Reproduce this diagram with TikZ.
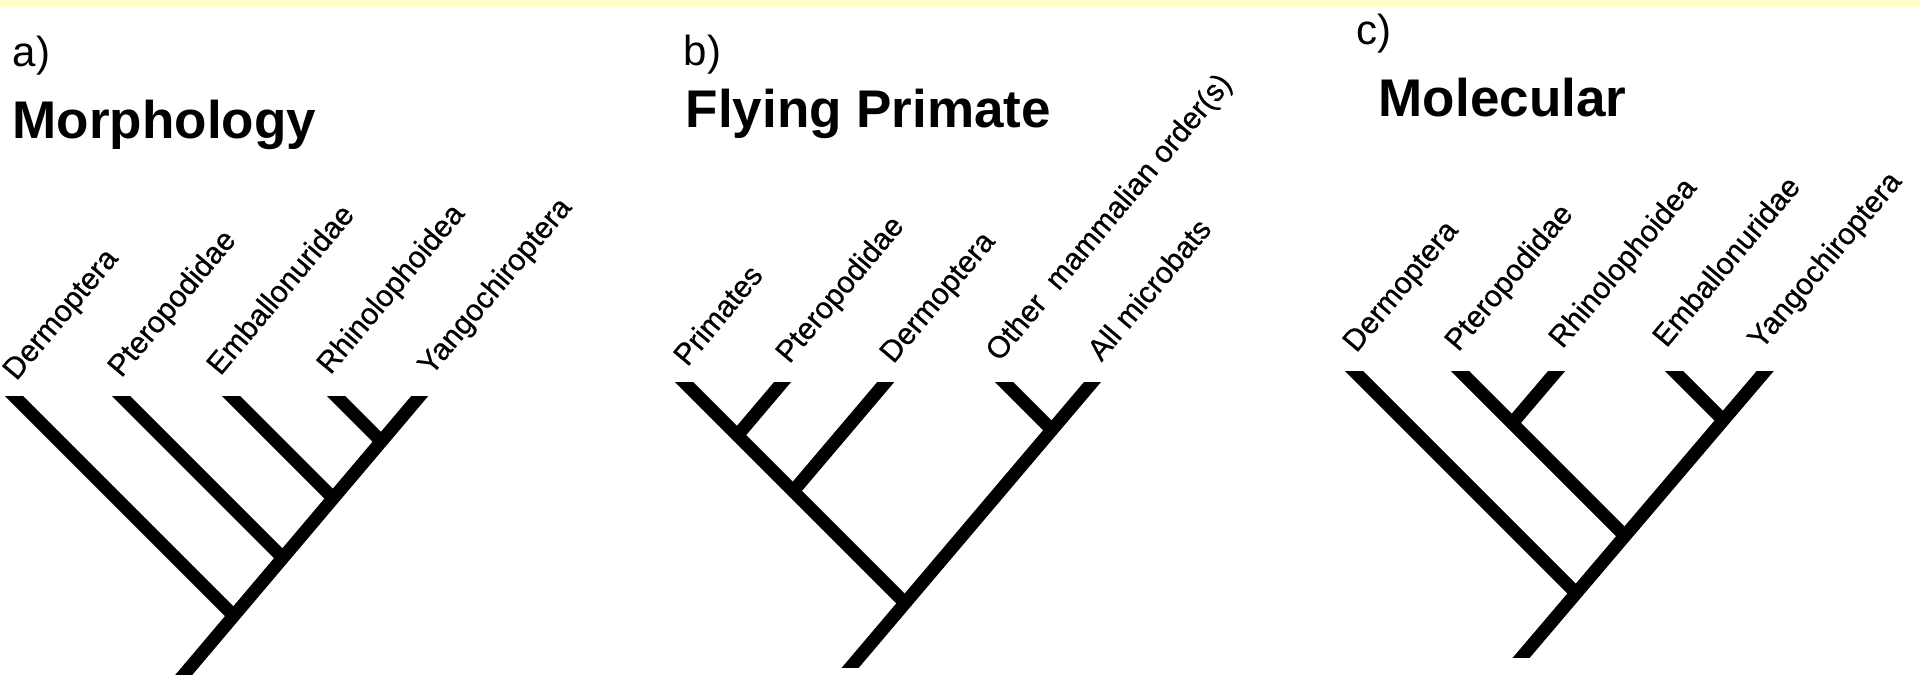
\documentclass[tikz,border=0pt]{standalone}
\usepackage{fontspec}
\setmainfont{Liberation Sans}
\newfontfamily\taxonfont{Liberation Sans}[FakeBold=0.6]
\definecolor{bandyellow}{RGB}{255,255,204}
\begin{document}
\begin{tikzpicture}[x=0.01cm,y=-0.01cm,
  branch/.style={line width=0.13cm, line cap=butt},
  taxon/.style={rotate=50, anchor=base west, inner sep=0pt, font=\taxonfont\fontsize{8.6}{10}\selectfont},
  paneltag/.style={anchor=base west, inner sep=0pt, font=\fontsize{11.95}{14}\selectfont},
  paneltitle/.style={anchor=base west, inner sep=0pt, font=\fontsize{15.08}{18}\selectfont\bfseries}]
\useasboundingbox (0,0) rectangle (1920,677);
\fill[white] (0,0) rectangle (1920,677);
\fill[bandyellow] (0,0) rectangle (1920,7);

% ---------- panel a ----------
\node[paneltag] (taga) at (12,67) {a)};
\node[paneltitle] (titlea) at (12,139) {Morphology};
\begin{scope}
\clip (0,397) rectangle (640,675);
\coordinate (aRoot) at (171,690);
\coordinate (aYan) at (433.3,380);
\coordinate (aN1) at (233.8,615.8);
\coordinate (aN2) at (282.8,557.8);
\coordinate (aN3) at (333.2,498.2);
\coordinate (aN4) at (381.3,441.3);
\coordinate (aDer) at (-2,380);
\coordinate (aPte) at (105,380);
\coordinate (aEmb) at (215,380);
\coordinate (aRhi) at (320,380);
\draw[branch] (aRoot) -- (aYan);
\draw[branch] (aN1) -- (aDer);
\draw[branch] (aN2) -- (aPte);
\draw[branch] (aN3) -- (aEmb);
\draw[branch] (aN4) -- (aRhi);
\end{scope}
\node[taxon] (laDer) at (16,382) {Dermoptera};
\node[taxon] (laPte) at (121,379) {Pteropodidae};
\node[taxon] (laEmb) at (220,377) {Emballonuridae};
\node[taxon] (laRhi) at (330,376) {Rhinolophoidea};
\node[taxon] (laYan) at (431,377) {Yangochiroptera};

% ---------- panel b ----------
\node[paneltag] (tagb) at (683,66) {b)};
\node[paneltitle] (titleb) at (685,128) {Flying Primate};
\begin{scope}
\clip (640,383) rectangle (1280,668);
\coordinate (bRoot) at (831.4,690);
\coordinate (bAll) at (1102.7,370);
\coordinate (bN0) at (905.1,603.1);
\coordinate (bNpp) at (737.4,435.4);
\coordinate (bNd) at (793.2,491.2);
\coordinate (bNo) at (1051.9,429.9);
\coordinate (bPri) at (672,370);
\coordinate (bPte) at (792.8,370);
\coordinate (bDer) at (896,370);
\coordinate (bOth) at (992,370);
\draw[branch] (bRoot) -- (bAll);
\draw[branch] (bN0) -- (bPri);
\draw[branch] (bNpp) -- (bPte);
\draw[branch] (bNd) -- (bDer);
\draw[branch] (bNo) -- (bOth);
\end{scope}
\node[taxon] (lbPri) at (687,368) {Primates};
\node[taxon] (lbPte) at (789,365) {Pteropodidae};
\node[taxon] (lbDer) at (893,365) {Dermoptera};
\node[taxon] (lbOth) at (999,363) {Other\ \ mammalian order(s)};
\node[taxon] (lbAll) at (1101,363) {All microbats};

% ---------- panel c ----------
\node[paneltag] (tagc) at (1356,45) {c)};
\node[paneltitle] (titlec) at (1378,117) {Molecular};
\begin{scope}
\clip (1280,372) rectangle (1920,658);
\coordinate (cRoot) at (1493.8,690);
\coordinate (cYan) at (1774.6,360);
\coordinate (cN0) at (1576.2,593.2);
\coordinate (cN1) at (1624.9,535.9);
\coordinate (cNpr) at (1512.2,423.2);
\coordinate (cNey) at (1723.3,420.3);
\coordinate (cDer) at (1343,360);
\coordinate (cPte) at (1449,360);
\coordinate (cRhi) at (1566,360);
\coordinate (cEmb) at (1663,360);
\draw[branch] (cRoot) -- (cYan);
\draw[branch] (cN0) -- (cDer);
\draw[branch] (cN1) -- (cPte);
\draw[branch] (cNpr) -- (cRhi);
\draw[branch] (cNey) -- (cEmb);
\end{scope}
\node[taxon] (lcDer) at (1356,354) {Dermoptera};
\node[taxon] (lcPte) at (1458,353) {Pteropodidae};
\node[taxon] (lcRhi) at (1562,350) {Rhinolophoidea};
\node[taxon] (lcEmb) at (1666,349) {Emballonuridae};
\node[taxon] (lcYan) at (1761,351) {Yangochiroptera};
\end{tikzpicture}
\end{document}
